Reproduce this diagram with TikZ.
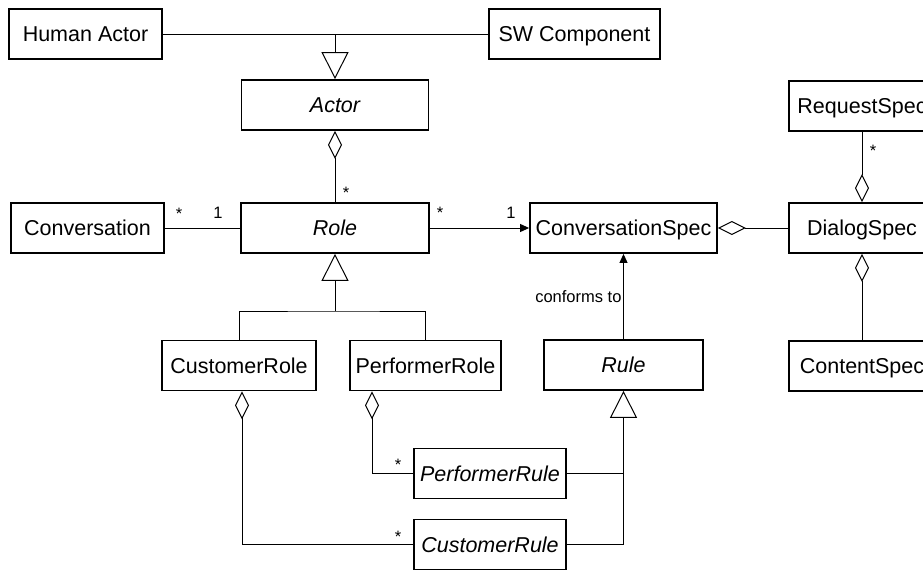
\documentclass[tikz,border=0pt]{standalone}
\usepackage{fontspec}
\setmainfont{Liberation Sans}
\usetikzlibrary{arrows.meta}

\begin{document}
\begin{tikzpicture}
  [x=1pt,y=-1pt,line width=1pt,
   class/.style={draw,line width=1.8pt,inner sep=0pt,minimum height=50pt,
     text height=15.4pt,text depth=0pt,font=\fontsize{21.5}{24}\selectfont},
   abstract/.style={class,font=\fontsize{21.5}{24}\selectfont\itshape},
   mult/.style={inner sep=0pt,anchor=base,font=\fontsize{16.5}{18}\selectfont},
   gen/.style={-{Triangle[open,length=27pt,width=27pt]}},
   agg/.style={{Diamond[open,length=28pt,width=14pt]}-},
   nav/.style={-{Triangle[length=9pt,width=8pt]}}]
  \useasboundingbox (0,0) rectangle (923,570);
  \clip (0,0) rectangle (923,570);

  % classes
  \node[class,minimum width=153pt] (HumanActor) at (85.5,34) {Human Actor};
  \node[class,minimum width=171pt] (SWComponent) at (574.5,34) {SW Component};
  \node[abstract,minimum width=187pt] (Actor) at (335,105) {Actor};
  \node[class,minimum width=153pt] (Conversation) at (87.5,228) {Conversation};
  \node[abstract,minimum width=188pt] (Role) at (335,228) {Role};
  \node[class,minimum width=187pt] (ConversationSpec) at (623.5,228) {ConversationSpec};
  \node[class,minimum width=146pt] (RequestSpec) at (862,106) {RequestSpec};
  \node[class,minimum width=146pt] (DialogSpec) at (862,228) {DialogSpec};
  \node[class,minimum width=146pt] (ContentSpec) at (862,366) {ContentSpec};
  \node[class,minimum width=154pt] (CustomerRole) at (239,365.5) {CustomerRole};
  \node[class,minimum width=151pt] (PerformerRole) at (425.5,365.5) {PerformerRole};
  \node[abstract,minimum width=159pt] (Rule) at (623.5,365) {Rule};
  \node[abstract,minimum width=152pt] (PerformerRule) at (490,473.5) {PerformerRule};
  \node[abstract,minimum width=152pt] (CustomerRule) at (490,544.5) {CustomerRule};

  % inheritance
  \coordinate (ActorJoin) at (HumanActor.east -| Actor.north);
  \draw (HumanActor) -- (SWComponent);
  \draw[gen] (ActorJoin) -- (Actor);
  \coordinate (RoleFork) at (335,311);
  \draw[gen] (RoleFork) -- (Role.south);
  \draw (CustomerRole.north) |- (RoleFork) -| (PerformerRole.north);
  \draw[gen] (CustomerRule.east) -| (Rule.south);
  \draw (PerformerRule.east) -- (PerformerRule.east -| Rule.south);

  % associations
  \draw (Conversation) -- (Role);
  \draw[nav] (Role) -- (ConversationSpec);
  \draw[nav] (Rule) -- (ConversationSpec)
    node[mult,midway,left,inner sep=1.5pt] (conformsTo) {conforms to};
  \draw[agg] (Actor) -- (Role);
  \draw[agg] (ConversationSpec) -- (DialogSpec);
  \draw[agg] (DialogSpec) -- (RequestSpec);
  \draw[agg] (DialogSpec) -- (ContentSpec);
  \draw[agg] ([xshift=3pt]CustomerRole.south) |- (CustomerRule.west);
  \draw[agg] ([xshift=-53.5pt]PerformerRole.south) |- (PerformerRule.west);

  % multiplicities
  \node[mult] (convMany) at (179,219) {*};
  \node[mult] (convOne) at (218,218) {1};
  \node[mult] (roleMany) at (440,218.5) {*};
  \node[mult] (specOne) at (511,218) {1};
  \node[mult] (actorRoles) at (346,198.5) {*};
  \node[mult] (requestMany) at (873,156.5) {*};
  \node[mult] (performerRules) at (398,470.5) {*};
  \node[mult] (customerRules) at (398,542.5) {*};
\end{tikzpicture}
\end{document}
